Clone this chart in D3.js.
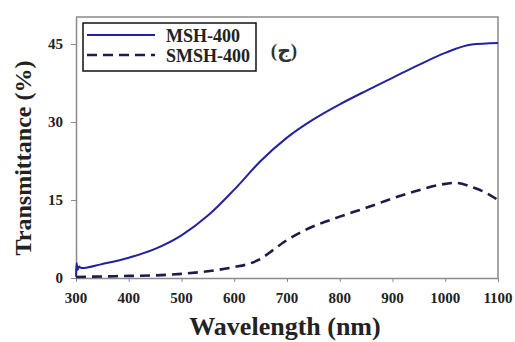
<!DOCTYPE html>
<html>
<head>
<meta charset="utf-8">
<script src="https://cdn.jsdelivr.net/npm/d3@7"></script>
<style>
  html, body { margin: 0; padding: 0; background: #fff; overflow: hidden; }
  svg { display: block; }
  text { font-family: "Liberation Serif", "Times New Roman", "DejaVu Sans", serif; font-weight: bold; }
</style>
</head>
<body>
<svg width="515" height="342"></svg>
<script>
// wavelength (nm) and transmittance (%)
const mshWave = [300, 301, 303, 306, 310, 350, 400, 450, 500, 550, 600, 650, 700, 750, 800, 850, 900, 950, 1000, 1050, 1100];
const mshT    = [0.3, 2.9, 1.6, 2.2, 1.9, 2.7, 3.9, 5.6, 8.2, 12.0, 17.0, 22.5, 27.0, 30.5, 33.4, 36.0, 38.5, 41.0, 43.3, 44.9, 45.2];

const smshWave = [300, 350, 400, 450, 500, 550, 600, 630, 650, 675, 700, 730, 800, 850, 900, 950, 1000, 1020, 1050, 1075, 1100];
const smshT    = [0.2, 0.3, 0.4, 0.5, 0.8, 1.3, 2.1, 2.8, 3.7, 5.5, 7.3, 9.0, 11.8, 13.5, 15.3, 16.9, 18.1, 18.3, 17.5, 16.5, 15.0];

const xTicks = [300, 400, 500, 600, 700, 800, 900, 1000, 1100];
const yTicks = [0, 15, 30, 45];

const seriesNames = ["MSH-400", "SMSH-400"];

const svg = d3.select('svg');
const margin = { top: 17, right: 17, bottom: 64, left: 76 };
const innerWidth = 515 - margin.left - margin.right;
const innerHeight = 342 - margin.top - margin.bottom;

const xScale = d3.scaleLinear().domain([300, 1100]).range([0, innerWidth]);
const yScale = d3.scaleLinear().domain([0, 50.2]).range([innerHeight, 0]);

const g = svg.append('g')
    .attr('transform', `translate(${margin.left}, ${margin.top})`);

// frame (top + right)
g.append('path')
    .attr('d', `M0,0H${innerWidth}V${innerHeight}`)
    .attr('fill', 'none')
    .attr('stroke', '#8a8a8a')
    .attr('stroke-width', 1.5);

// axes: lines and ticks from d3, labels drawn below
const xAxis = g.append('g')
    .attr('transform', `translate(0, ${innerHeight})`)
    .call(d3.axisBottom(xScale).tickValues(xTicks).tickSize(4).tickSizeOuter(0).tickFormat(''));
xAxis.select('.domain').attr('stroke', '#8a8a8a').attr('stroke-width', 1.5);
xAxis.selectAll('.tick line').attr('stroke', '#8a8a8a');

const yAxis = g.append('g')
    .call(d3.axisLeft(yScale).tickValues(yTicks).tickSize(5).tickSizeOuter(0).tickFormat(''));
yAxis.select('.domain').attr('stroke', '#8a8a8a').attr('stroke-width', 1.5);
yAxis.selectAll('.tick line').attr('stroke', '#8a8a8a');

g.selectAll('.xlabel')
    .data(xTicks)
    .enter().append('text')
    .attr('class', 'xlabel')
    .attr('x', d => xScale(d))
    .attr('y', innerHeight + 25)
    .attr('text-anchor', 'middle')
    .style('font-size', '15px')
    .attr('fill', '#222')
    .text(d => d);

g.selectAll('.ylabel')
    .data(yTicks)
    .enter().append('text')
    .attr('class', 'ylabel')
    .attr('x', -13)
    .attr('y', d => yScale(d))
    .attr('dy', '0.32em')
    .attr('text-anchor', 'end')
    .style('font-size', '15px')
    .attr('fill', '#222')
    .text(d => d);

// axis titles
svg.append('text')
    .attr('x', 285).attr('y', 335)
    .attr('text-anchor', 'middle')
    .style('font-size', '26px')
    .attr('fill', '#222')
    .text('Wavelength (nm)');

svg.append('text')
    .attr('transform', 'translate(31, 158) rotate(-90)')
    .attr('text-anchor', 'middle')
    .style('font-size', '24px')
    .attr('fill', '#222')
    .text('Transmittance (%)');

// curves
const line = d3.line()
    .x(d => xScale(d[0]))
    .y(d => yScale(d[1]))
    .curve(d3.curveMonotoneX);

const mshData = mshWave.map((w, i) => [w, mshT[i]]);
const smshData = smshWave.map((w, i) => [w, smshT[i]]);

g.append('path')
    .datum(smshData)
    .attr('d', line)
    .attr('fill', 'none')
    .attr('stroke', '#1c1c48')
    .attr('stroke-width', 2.6)
    .attr('stroke-dasharray', '10,6');

g.append('path')
    .datum(mshData)
    .attr('d', line)
    .attr('fill', 'none')
    .attr('stroke', '#22229c')
    .attr('stroke-width', 2);

// legend
const legend = svg.append('g').attr('transform', 'translate(83, 23)');
legend.append('rect')
    .attr('width', 173).attr('height', 48)
    .attr('fill', '#fff')
    .attr('stroke', '#111')
    .attr('stroke-width', 1.5);

const styles = [
    { stroke: '#22229c', width: 2, dash: null },
    { stroke: '#1c1c48', width: 2.6, dash: '10,6' }
];

seriesNames.forEach((name, i) => {
    const row = legend.append('g').attr('transform', `translate(0, ${12 + i * 20})`);
    row.append('line')
        .attr('x1', 4).attr('x2', 72)
        .attr('stroke', styles[i].stroke)
        .attr('stroke-width', styles[i].width)
        .attr('stroke-dasharray', styles[i].dash);
    row.append('text')
        .attr('x', 83).attr('y', 7)
        .style('font-size', '18px')
        .attr('fill', '#222')
        .text(name);
});

// panel label
svg.append('text')
    .attr('x', 284).attr('y', 57)
    .attr('text-anchor', 'middle')
    .style('font-size', '19px')
    .attr('fill', '#333')
    .text('(ج)');
</script>
</body>
</html>
